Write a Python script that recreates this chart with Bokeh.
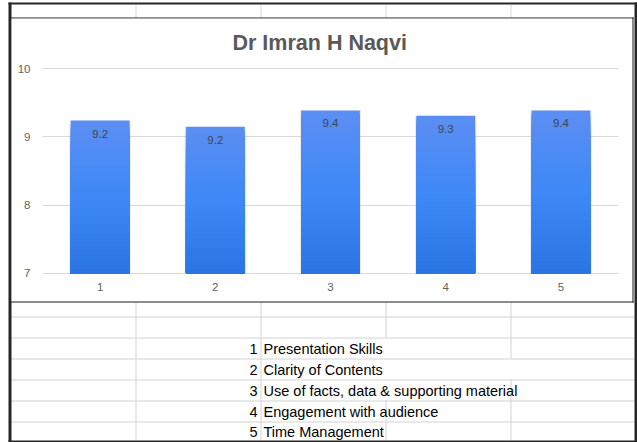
from bokeh.plotting import figure
from bokeh.models import (FactorRange, Range1d, FixedTicker, ColumnDataSource, LabelSet)
from bokeh.core.properties import value
from bokeh.embed import file_html
from bokeh.resources import INLINE

# ---------------- data ----------------
categories = ["1", "2", "3", "4", "5"]
scores = [9.24, 9.15, 9.39, 9.31, 9.39]
score_labels = ["9.2", "9.2", "9.4", "9.3", "9.4"]
y_ticks = [7, 8, 9, 10]
criteria_numbers = ["1", "2", "3", "4", "5"]
criteria = ["Presentation Skills", "Clarity of  Contents",
            "Use of facts, data & supporting material",
            "Engagement with audience", "Time Management"]
title_text = "Dr Imran H Naqvi"

FONT = "Liberation Sans"

# ============ background: the spreadsheet (pixel coordinates) ============
W, H = 637, 442
sheet = figure(width=W, height=H, x_range=Range1d(0, W), y_range=Range1d(H, 0),
               x_axis_type=None, y_axis_type=None, output_backend="svg",
               toolbar_location=None, min_border=0, outline_line_color=None,
               background_fill_color="white", border_fill_color="white")
sheet.styles = {"position": "absolute", "left": "0px", "top": "0px"}

GRID = "#d3d3d3"
DARK = "#262626"
col_edges = [135, 260, 385, 510]
sheet_left, sheet_right = 10, 634
row_edges = [302, 316, 337, 358, 379, 400, 421, 440]
first_text_row = 2
hidden = {(2, 385), (3, 385), (3, 510), (4, 385)}  # cells covered by overflowing text

L, R, T, B, C = [], [], [], [], []


def rect(l, r, t, b, c):
    L.append(l); R.append(r); T.append(t); B.append(b); C.append(c)


for x in col_edges:                     # top row column lines
    rect(x, x + 1, 4, 17, "#dadada")
for y in row_edges[1:-1]:               # row lines under the chart
    rect(sheet_left, sheet_right, y, y + 1, GRID)
for ri in range(len(row_edges) - 1):
    for x in col_edges:
        if (ri, x) not in hidden:
            rect(x, x + 1, row_edges[ri], row_edges[ri + 1], GRID)
# chart box border
rect(10, 633, 17, 18, "#1a1a1a")
rect(10, 633, 301, 302, "#1a1a1a")
rect(632, 633, 17, 302, "#1a1a1a")
# outer frame
rect(8, 11, 2, 442, DARK)
rect(634, 637, 2, 442, DARK)
rect(8, 637, 2, 4, DARK)
rect(8, 637, 440, 442, DARK)
sheet.quad(left=L, right=R, top=T, bottom=B, fill_color=C, line_color=None)

row_centers = [(row_edges[first_text_row + i] + row_edges[first_text_row + i + 1]) / 2 + 0.5
               for i in range(len(criteria))]
sheet.text(x=[col_edges[1] - 3] * len(criteria), y=row_centers, text=criteria_numbers,
           text_align="right", text_baseline="middle", text_font=value(FONT),
           text_font_size=value("14.5px"), text_color="black")
sheet.text(x=[col_edges[1] + 3] * len(criteria), y=row_centers, text=criteria,
           text_align="left", text_baseline="middle", text_font=value(FONT),
           text_font_size=value("14.5px"), text_color="black")

# ============ foreground: the chart ============
CX, CY, CW, CH = 11, 18, 621, 283
p = figure(x_range=FactorRange(*categories), y_range=Range1d(6.98, 10.02),
           width=CW, height=CH, output_backend="svg", toolbar_location=None,
           title=title_text,
           min_border_left=31, min_border_right=14, min_border_top=49,
           min_border_bottom=27,
           background_fill_color="white", border_fill_color="white")
p.styles = {"position": "absolute", "left": f"{CX}px", "top": f"{CY}px"}
p.title.align = "left"
p.title.offset = 190
p.title.vertical_align = "middle"
p.title.standoff = 23
p.title.text_font = FONT
p.title.text_font_style = "bold"
p.title.text_font_size = "21.5px"
p.title.text_color = "#595959"
p.outline_line_color = None
p.xgrid.visible = False
p.ygrid.ticker = FixedTicker(ticks=y_ticks)
p.ygrid.grid_line_color = "#d9d9d9"
p.yaxis.ticker = FixedTicker(ticks=y_ticks)
for ax in (p.xaxis[0], p.yaxis[0]):
    ax.axis_line_color = None
    ax.major_tick_line_color = None
    ax.minor_tick_line_color = None
    ax.major_tick_in = 0
    ax.major_tick_out = 0
    ax.major_label_text_color = "#5f5f5f"
    ax.major_label_text_font = FONT
    ax.major_label_text_font_size = "11.5px"
p.yaxis.major_label_standoff = 12
p.xaxis.major_label_standoff = 8

# bars with a vertical gradient
stops = [(0.0, (43, 116, 228)), (0.5, (62, 136, 247)), (1.0, (92, 142, 242))]


def color_at(f):
    for (f0, c0), (f1, c1) in zip(stops[:-1], stops[1:]):
        if f0 <= f <= f1:
            t = (f - f0) / (f1 - f0)
            r, g, b = [round(a + (bb - a) * t) for a, bb in zip(c0, c1)]
            return "#%02x%02x%02x" % (r, g, b)
    return "#%02x%02x%02x" % stops[-1][1]


base = y_ticks[0]
p.vbar(x=categories, top=scores, bottom=base, width=0.535,
       fill_color="black", fill_alpha=0.07, line_color=None)
n = 40
xs, tops, cols = [], [], []
for k in range(n, 0, -1):
    col = color_at((k - 0.5) / n)
    for c, v in zip(categories, scores):
        xs.append(c)
        tops.append(base + (v - base) * k / n)
        cols.append(col)
p.vbar(x=xs, top=tops, bottom=base, width=0.51, fill_color=cols, line_color=None)

src = ColumnDataSource(dict(x=categories, y=scores, t=score_labels))
p.add_layout(LabelSet(x="x", y="y", text="t", source=src, y_offset=-13,
                      text_align="center", text_baseline="middle",
                      text_font=value(FONT), text_font_size="11.5px",
                      text_color="#3b4656"))

open("out.html", "w").write(file_html([sheet, p], INLINE))
